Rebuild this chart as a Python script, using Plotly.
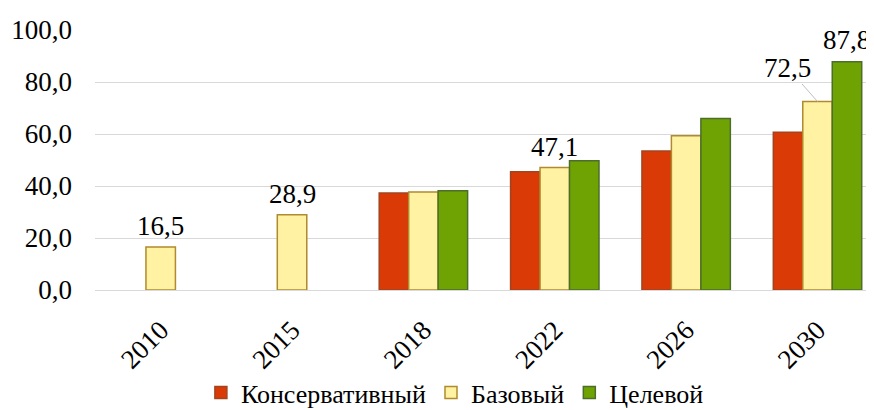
import plotly.graph_objects as go

years = ["2010", "2015", "2018", "2022", "2026", "2030"]
conservative = [None, None, 37.3, 45.5, 53.5, 60.7]
base = [16.5, 28.9, 37.7, 47.1, 59.3, 72.5]
target = [None, None, 38.2, 49.7, 66.0, 87.8]
series_names = ["Консервативный", "Базовый", "Целевой"]
y_ticks = [0, 20, 40, 60, 80, 100]

FONT = "Liberation Serif"
FS = 27
BARGAP = 0.327

fig = go.Figure()
fig.add_trace(go.Bar(x=years, y=conservative, name=series_names[0],
                     marker=dict(color="#D93A06", line=dict(color="#A24420", width=1.5))))
fig.add_trace(go.Bar(x=years, y=base, name=series_names[1],
                     marker=dict(color="#FFF2A2", line=dict(color="#B08A2C", width=1.5))))
fig.add_trace(go.Bar(x=years, y=target, name=series_names[2],
                     marker=dict(color="#6FA303", line=dict(color="#4C6E2A", width=1.5))))

def fmt(v):
    return f"{v:.1f}".replace(".", ",")

annotations = []
for i in [0, 1, 3]:
    annotations.append(dict(x=i, y=base[i], xref="x", yref="y", text=fmt(base[i]),
                            showarrow=False, yanchor="bottom", yshift=4,
                            font=dict(family=FONT, size=FS, color="black")))
annotations.append(dict(x=5, y=base[5], xref="x", yref="y", text=fmt(base[5]),
                        showarrow=True, arrowhead=0, arrowwidth=1, arrowcolor="#BFBFBF",
                        ax=-30, ay=-34, font=dict(family=FONT, size=FS, color="black")))
annotations.append(dict(x=5 + (1 - BARGAP) / 3, y=target[5], xref="x", yref="y",
                        text=fmt(target[5]), showarrow=False, yanchor="bottom", yshift=5,
                        font=dict(family=FONT, size=FS, color="black")))

# page body has an 8px margin: the figure is sized/offset to compensate
fig.update_layout(
    width=866, height=402,
    margin=dict(l=87, r=0, t=22, b=120, autoexpand=False),
    paper_bgcolor="white", plot_bgcolor="white",
    barmode="group", bargap=BARGAP, bargroupgap=0,
    separators=", ",
    font=dict(family=FONT, size=FS, color="black"),
    showlegend=True,
    legend=dict(orientation="h", x=0.462, xanchor="center", y=-0.395, yanchor="middle",
                bgcolor="rgba(0,0,0,0)",
                font=dict(family=FONT, size=26, color="black"), itemwidth=30,
                traceorder="normal"),
    annotations=annotations,
)
fig.update_xaxes(type="category", range=[-0.5, 5.43], tickangle=-45,
                 showline=False, ticks="", ticklabelstandoff=18, automargin=False,
                 tickfont=dict(family=FONT, size=FS, color="black"))
fig.update_yaxes(range=[0, 100], tickvals=y_ticks, tickformat=".1f",
                 showgrid=True, gridcolor="#D9D9D9", gridwidth=1,
                 zeroline=True, zerolinecolor="#D9D9D9", zerolinewidth=1,
                 showline=False, ticks="", ticklabelstandoff=22, automargin=False,
                 tickfont=dict(family=FONT, size=FS, color="black"))

fig.write_html("out.html")
